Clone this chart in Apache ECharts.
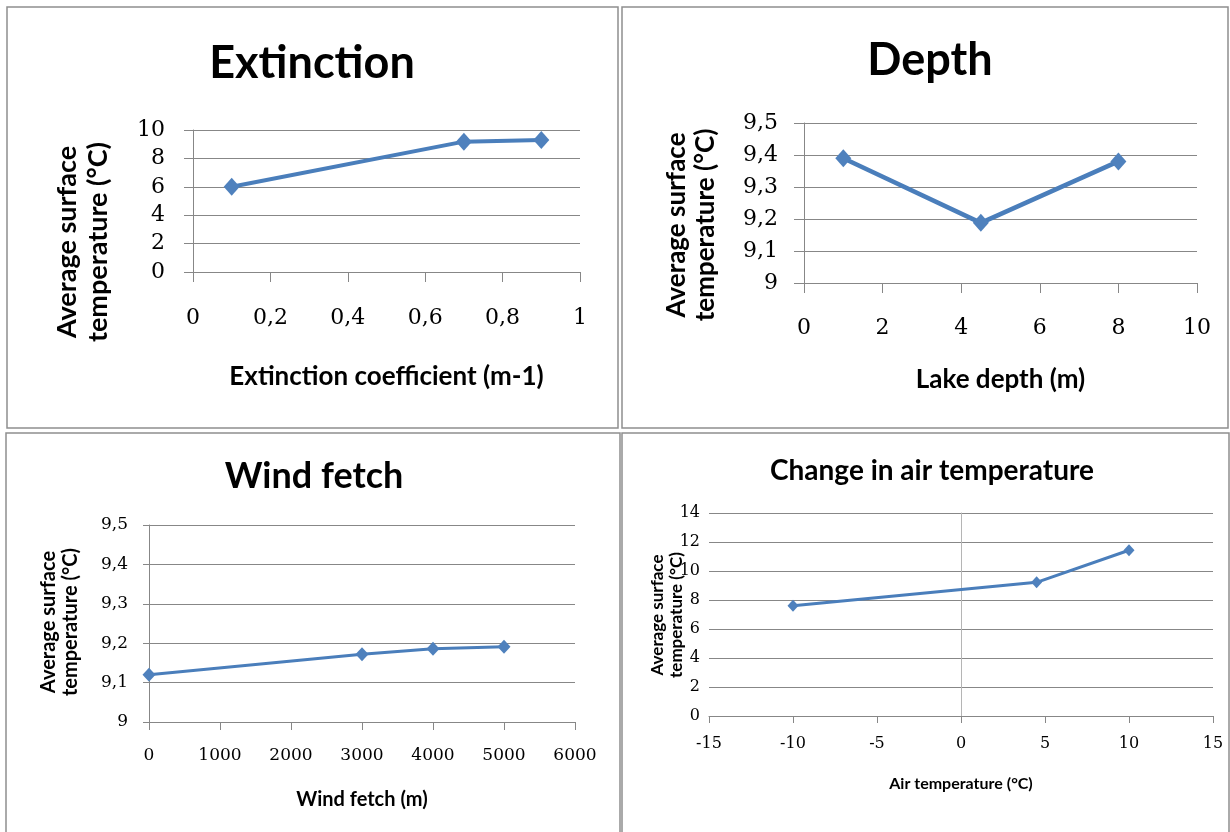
<!DOCTYPE html>
<html>
<head>
<meta charset="utf-8">
<style>
  html, body { margin: 0; padding: 0; background: #fff; }
  #container { width: 1230px; height: 832px; }
</style>
<script src="https://cdn.jsdelivr.net/npm/echarts@6/dist/echarts.min.js"></script>
</head>
<body>
<div id="container"></div>
<script>
var extinctionCoef = [0.1, 0.7, 0.9];
var extinctionTemp = [6.0, 9.18, 9.3];

var lakeDepth = [1, 4.5, 8];
var depthTemp = [9.39, 9.188, 9.38];

var windFetch = [0, 3000, 4000, 5000];
var fetchTemp = [9.12, 9.172, 9.186, 9.191];

var airTemp = [-10, 4.5, 10];
var airSurfaceTemp = [7.6, 9.22, 11.43];

var titles = ['Extinction', 'Depth', 'Wind fetch', 'Change in air temperature'];
var xNames = ['Extinction coefficient (m-1)', 'Lake depth (m)', 'Wind fetch (m)', 'Air temperature (°C)'];
var yName = 'Average surface\ntemperature (°C)';

var dom = document.getElementById('container');
var myChart = echarts.init(dom, null, { renderer: 'canvas' });

var gridColor = '#878787';
var lineColor = '#4a7ebb';
var markerColor = '#4f81bd';

function pairs(xs, ys) {
  return xs.map(function (x, i) { return [x, ys[i]]; });
}

function comma(v) {
  return String(+v.toFixed(3)).replace('.', ',');
}

function tickFont(size) {
  return { fontFamily: 'DejaVu Serif', fontSize: size, color: '#000' };
}

function xAxis(i, min, max, step, tick, margin, labelSize, nameGap, nameSize) {
  return {
    gridIndex: i, type: 'value', min: min, max: max, interval: step,
    axisLine: { show: true, onZero: false, lineStyle: { color: gridColor } },
    axisTick: { show: true, length: tick, lineStyle: { color: gridColor } },
    splitLine: { show: false },
    axisLabel: Object.assign({ margin: margin, formatter: comma }, tickFont(labelSize)),
    name: xNames[i], nameLocation: 'middle', nameGap: nameGap,
    nameTextStyle: { fontFamily: 'Lato', fontWeight: 'bold', fontSize: nameSize, color: '#000' }
  };
}

function yAxis(i, min, max, step, tick, margin, labelSize) {
  return {
    gridIndex: i, type: 'value', min: min, max: max, interval: step,
    axisLine: { show: true, onZero: false, lineStyle: { color: gridColor } },
    axisTick: { show: tick > 0, length: tick, lineStyle: { color: gridColor } },
    splitLine: { show: true, lineStyle: { color: gridColor } },
    axisLabel: Object.assign({ margin: margin, formatter: comma }, tickFont(labelSize))
  };
}

function lineSeries(i, data, width, size) {
  return {
    type: 'line', xAxisIndex: i, yAxisIndex: i, data: data,
    symbol: 'diamond', symbolSize: size, showSymbol: true,
    lineStyle: { color: lineColor, width: width },
    itemStyle: { color: markerColor },
    z: 3
  };
}

function titleAt(i, x, y, size) {
  return {
    text: titles[i], left: x, top: y - size / 2, textAlign: 'center', padding: 0,
    textStyle: { fontFamily: 'Lato', fontWeight: 'bold', fontSize: size, color: '#000' }
  };
}

function yNameAt(x, y, size, lh) {
  return {
    type: 'text', x: x, y: y, rotation: Math.PI / 2,
    style: { text: yName, font: 'bold ' + size + 'px Lato', align: 'center', verticalAlign: 'middle', lineHeight: lh, fill: '#000' }
  };
}

function frame(x, y, w, h) {
  return { type: 'rect', shape: { x: x, y: y, width: w, height: h }, style: { fill: null, stroke: '#8f8f8f', lineWidth: 1.5 } };
}

// air temperature panel: y axis sits on x = 0, no y ticks
var airX = xAxis(3, -15, 15, 5, 7, 20, 16, 60, 16);
var airY = yAxis(3, 0, 14, 2, 0, 9, 16);
airY.axisLine = { show: true, onZero: true, lineStyle: { color: '#b5b5b5' } };

option = {
  animation: false,
  backgroundColor: '#fff',
  title: [
    titleAt(0, 312, 63, 45),
    titleAt(1, 930, 60, 45),
    titleAt(2, 314, 476, 36),
    titleAt(3, 932, 471, 28)
  ],
  grid: [
    { left: 193, top: 130, width: 387, height: 142 },
    { left: 804, top: 123, width: 393, height: 160 },
    { left: 149, top: 525, width: 426, height: 197 },
    { left: 709, top: 513, width: 504, height: 203 }
  ],
  xAxis: [
    xAxis(0, 0, 1, 0.2, 10, 35, 22, 92, 26),
    xAxis(1, 0, 10, 2, 10, 34, 22, 84, 26),
    xAxis(2, 0, 6000, 1000, 8, 25, 17, 68, 20),
    airX
  ],
  yAxis: [
    yAxis(0, 0, 10, 2, 9, 28, 22),
    yAxis(1, 9, 9.5, 0.1, 10, 26, 22),
    yAxis(2, 9, 9.5, 0.1, 6, 21, 17),
    airY
  ],
  series: [
    lineSeries(0, pairs(extinctionCoef, extinctionTemp), 4, [16, 18]),
    lineSeries(1, pairs(lakeDepth, depthTemp), 4.5, [16, 18]),
    lineSeries(2, pairs(windFetch, fetchTemp), 3, [13, 14]),
    lineSeries(3, pairs(airTemp, airSurfaceTemp), 3, [11, 12])
  ],
  graphic: [
    frame(7, 7, 611, 421),
    frame(622, 7, 606, 421),
    frame(6, 433, 614, 410),
    frame(622, 433, 607, 410),
    yNameAt(83, 242, 27, 31),
    yNameAt(691, 225, 26, 29),
    yNameAt(60, 622, 20, 22),
    yNameAt(667, 615, 17, 19)
  ]
};

if (option && typeof option === 'object') {
  myChart.setOption(option);
}

window.addEventListener('resize', myChart.resize);
</script>
</body>
</html>
